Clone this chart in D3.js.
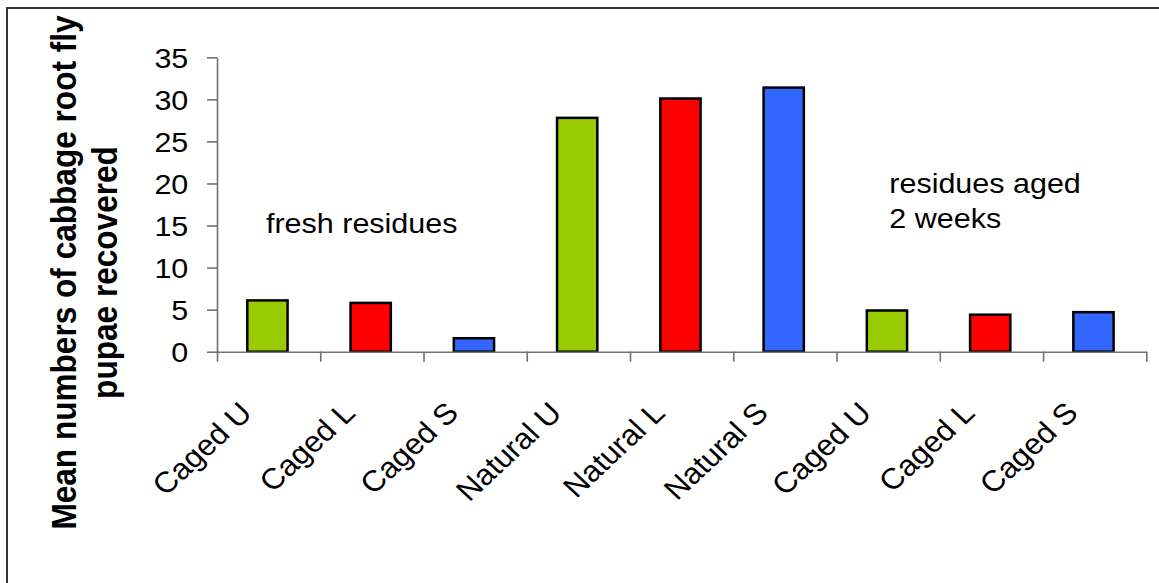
<!DOCTYPE html>
<html>
<head>
<meta charset="utf-8">
<script src="https://cdn.jsdelivr.net/npm/d3@7"></script>
<style>
  html, body { margin: 0; padding: 0; background: #fff; }
  svg { display: block; }
  text { font-family: "Liberation Sans", Arial, Helvetica, sans-serif; fill: #000; }
</style>
</head>
<body>
<svg id="chart" width="1159" height="583"></svg>
<script>
// Category labels along the x axis
const categories = ["Caged U", "Caged L", "Caged S", "Natural U", "Natural L", "Natural S", "Caged U", "Caged L", "Caged S"];
// Mean numbers of pupae recovered per treatment
const values = [6.1, 5.8, 1.6, 27.8, 30.1, 31.4, 4.9, 4.4, 4.7];
// Fill colour per bar (U / L / S)
const barColors = ["#99CC00", "#FF0000", "#3366FF", "#99CC00", "#FF0000", "#3366FF", "#99CC00", "#FF0000", "#3366FF"];
// y axis tick labels
const yTicks = [0, 5, 10, 15, 20, 25, 30, 35];
// Title of the value axis (two lines)
const yTitle = ["Mean numbers of cabbage root fly", "pupae recovered"];
// Free-standing notes inside the plot
const noteFresh = ["fresh residues"];
const noteAged = ["residues aged", "2 weeks"];

const W = 1159, H = 583;
const SX = 1.07;            // horizontal text stretch
const plot = { left: 217, right: 1146.3, top: 57.3, bottom: 351.7 };
const FONT = 28.5;
const LABEL_FONT = 29.5;

const svg = d3.select("#chart");

// outer frame
svg.append("rect")
  .attr("x", 7).attr("y", 8)
  .attr("width", W + 20).attr("height", H + 20)
  .attr("fill", "none").attr("stroke", "#333").attr("stroke-width", 2);

const x = d3.scaleBand()
  .domain(d3.range(categories.length))
  .range([plot.left, plot.right])
  .paddingInner(0).paddingOuter(0);

const xEdges = d3.scaleLinear()
  .domain([0, categories.length])
  .range([plot.left, plot.right]);

const y = d3.scaleLinear()
  .domain([0, 35])
  .range([plot.bottom, plot.top]);

// bars
const barW = x.bandwidth() * 0.39;
svg.append("g").selectAll("rect")
  .data(values)
  .join("rect")
  .attr("x", (d, i) => x(i) + (x.bandwidth() - barW) / 2 - 1.2)
  .attr("y", d => y(d))
  .attr("width", barW)
  .attr("height", d => y(0) - y(d))
  .attr("fill", (d, i) => barColors[i])
  .attr("stroke", "#000")
  .attr("stroke-width", 2.5);

// y axis
const yAxis = svg.append("g")
  .attr("transform", `translate(${plot.left},0)`)
  .call(d3.axisLeft(y).tickValues(yTicks).tickSize(10).tickSizeOuter(0));
yAxis.select(".domain").attr("stroke", "#707070").attr("stroke-width", 1.6);
yAxis.selectAll(".tick line").attr("stroke", "#707070").attr("stroke-width", 1.6);
yAxis.selectAll(".tick text")
  .attr("x", 0)
  .attr("dy", "0.35em")
  .attr("transform", `translate(-28.7,0) scale(${SX},1)`)
  .attr("text-anchor", "end")
  .style("font-size", FONT + "px")
  .attr("fill", "#000");

// x axis with ticks on category boundaries
const xAxis = svg.append("g")
  .attr("transform", `translate(0,${plot.bottom})`)
  .call(d3.axisBottom(xEdges).tickValues(d3.range(categories.length + 1)).tickSize(10).tickSizeOuter(0).tickFormat(""));
xAxis.select(".domain").attr("stroke", "#707070").attr("stroke-width", 1.6);
xAxis.selectAll(".tick line").attr("stroke", "#707070").attr("stroke-width", 1.6);

// rotated category labels, ending just left of each category centre
svg.append("g").selectAll("text")
  .data(categories)
  .join("text")
  .attr("transform", (d, i) => `translate(${x(i) + x.bandwidth() / 2 - 15},${plot.bottom + 63}) scale(${SX},1) rotate(-45)`)
  .attr("text-anchor", "end")
  .style("font-size", LABEL_FONT + "px")
  .text(d => d);

// y axis title
const titleCenter = 272.5;
const titleBaselines = [75.7, 117.3];
svg.append("g").selectAll("text")
  .data(yTitle)
  .join("text")
  .attr("transform", (d, i) => `translate(${titleBaselines[i]},${titleCenter}) scale(1.1,1) rotate(-90)`)
  .attr("text-anchor", "middle")
  .style("font-size", "31.6px")
  .style("font-weight", "bold")
  .text(d => d);

// notes
function note(lines, left, firstBaseline, step) {
  svg.append("g").selectAll("text")
    .data(lines)
    .join("text")
    .attr("transform", (d, i) => `translate(${left},${firstBaseline + i * step}) scale(${SX},1)`)
    .style("font-size", FONT + "px")
    .text(d => d);
}
note(noteFresh, 266, 233.3, 0);
note(noteAged, 889.3, 193.3, 35);
</script>
</body>
</html>
